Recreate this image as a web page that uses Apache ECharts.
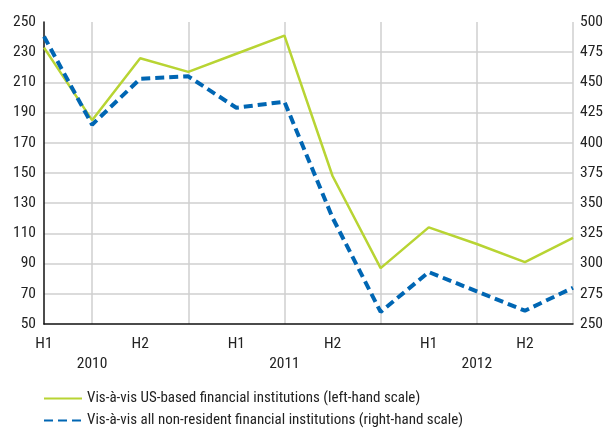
<!DOCTYPE html>
<html><head><meta charset="utf-8">
<script src="https://cdn.jsdelivr.net/npm/echarts@6/dist/echarts.min.js"></script>
<style>html,body{margin:0;padding:0;background:#fff}#c{width:608px;height:429px}</style>
</head><body><div id="c"></div>
<script>
const categories = ['2010 Q1','2010 Q2','2010 Q3','2010 Q4','2011 Q1','2011 Q2','2011 Q3','2011 Q4','2012 Q1','2012 Q2','2012 Q3','2012 Q4'];
const halfLabels = ['H1','','H2','','H1','','H2','','H1','','H2',''];
const yearLabels = ['','2010','','','','2011','','','','2012','',''];
const usBased = [233, 185, 226, 217, 229, 241, 148, 87, 114, 103, 91, 107];
const nonResident = [488, 415, 453, 455, 429, 434, 338, 260, 293, 277, 261, 280];
const leftTicks = {min: 50, max: 250, interval: 20};
const rightTicks = {min: 250, max: 500, interval: 25};
const seriesNames = ['Vis-à-vis US-based financial institutions (left-hand scale)',
                     'Vis-à-vis all non-resident financial institutions (right-hand scale)'];

const FONT = '"Roboto Condensed", Roboto, sans-serif';
const GREEN = '#b8d433';
const BLUE = '#0066b3';
const AX_FS = 15.5;
const legendBase = {
  left: 43, padding: 0, itemWidth: 38, itemHeight: 10, itemGap: 8,
  itemStyle: {opacity: 0},
  textStyle: {fontFamily: FONT, fontSize: 15, color: '#222'}
};
const chart = echarts.init(document.getElementById('c'), null, {renderer: 'canvas'});
chart.setOption({
  animation: false,
  textStyle: {fontFamily: FONT},
  grid: {left: 44, right: 35, top: 22, bottom: 105, containLabel: false},
  legend: [
    Object.assign({}, legendBase, {top: 391, data: [seriesNames[0]]}),
    Object.assign({}, legendBase, {top: 413, data: [seriesNames[1]]})
  ],
  xAxis: {
    type: 'category', data: categories, boundaryGap: false,
    axisLine: {lineStyle: {color: '#111', width: 1.5}},
    axisTick: {show: false},
    axisLabel: {
      interval: 0, margin: 10, fontFamily: FONT, fontSize: AX_FS, color: '#222', lineHeight: 20,
      formatter: (v, i) => halfLabels[i] + '\n' + yearLabels[i]
    },
    splitLine: {show: true, interval: (i) => i % 2 === 1, lineStyle: {color: '#cfcfcf', width: 1.5}}
  },
  yAxis: [{
    type: 'value', min: leftTicks.min, max: leftTicks.max, interval: leftTicks.interval,
    axisLine: {show: true, lineStyle: {color: '#111', width: 1.5}},
    axisTick: {show: false},
    axisLabel: {margin: 8, fontFamily: FONT, fontSize: AX_FS, color: '#222'},
    splitLine: {show: true, showMaxLine: false, showMinLine: false, lineStyle: {color: '#cfcfcf', width: 1.5}}
  }, {
    type: 'value', min: rightTicks.min, max: rightTicks.max, interval: rightTicks.interval,
    position: 'right',
    axisLine: {show: false}, axisTick: {show: false},
    axisLabel: {margin: 7, fontFamily: FONT, fontSize: AX_FS, color: '#222'},
    splitLine: {show: false}
  }],
  series: [{
    name: seriesNames[0],
    type: 'line', yAxisIndex: 0, data: usBased, symbol: 'none',
    lineStyle: {color: GREEN, width: 2.5}, itemStyle: {color: GREEN}, z: 3
  }, {
    name: seriesNames[1],
    type: 'line', yAxisIndex: 1, data: nonResident, symbol: 'none',
    lineStyle: {color: BLUE, width: 4, type: [9, 5]}, itemStyle: {color: BLUE}, z: 4
  }]
});
</script></body></html>
